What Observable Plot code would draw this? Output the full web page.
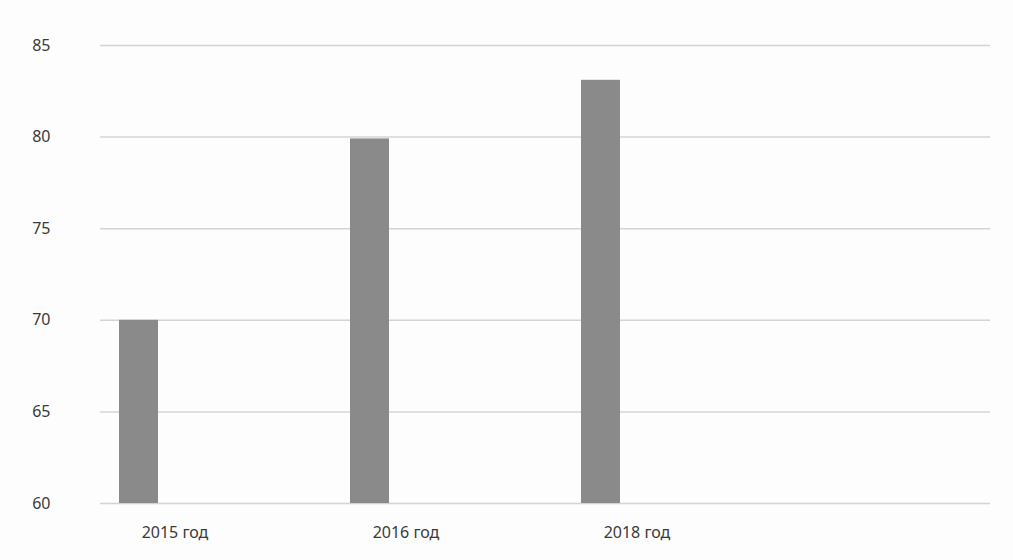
<!DOCTYPE html>
<html>
<head>
<meta charset="utf-8">
<script src="https://cdn.jsdelivr.net/npm/d3@7"></script>
<script src="https://cdn.jsdelivr.net/npm/@observablehq/plot@0.6"></script>
<style>
  html, body { margin: 0; padding: 0; background: #fdfdfd; }
  #chart { width: 1013px; height: 560px; overflow: hidden; }
</style>
</head>
<body>
<div id="chart"></div>
<script>
const categories = ["2015 год", "2016 год", "2018 год", ""];
const values = [70, 79.9, 83.1];
const yTicks = [60, 65, 70, 75, 80, 85];

const data = values.map((v, i) => ({category: categories[i], value: v}));

const chart = Plot.plot({
  width: 1013,
  height: 560,
  marginTop: 45,
  marginBottom: 57,
  marginLeft: 100,
  marginRight: 23,
  style: {background: "#fdfdfd", fontFamily: "'Noto Sans', sans-serif", fontSize: "16px", color: "#3a3a3a"},
  x: {domain: categories, range: [58, 984], padding: 0, label: null, tickSize: 0, tickPadding: 23},
  y: {domain: [60, 85], ticks: yTicks, label: null, tickSize: 0, tickPadding: 50},
  marks: [
    Plot.ruleY(yTicks, {stroke: "#d4d4d4", strokeWidth: 1.5}),
    Plot.barY(data, {x: "category", y1: 60, y2: "value", fill: "#8a8a8a", insetLeft: 60, insetRight: 132})
  ]
});
document.getElementById("chart").appendChild(chart);
</script>
</body>
</html>
